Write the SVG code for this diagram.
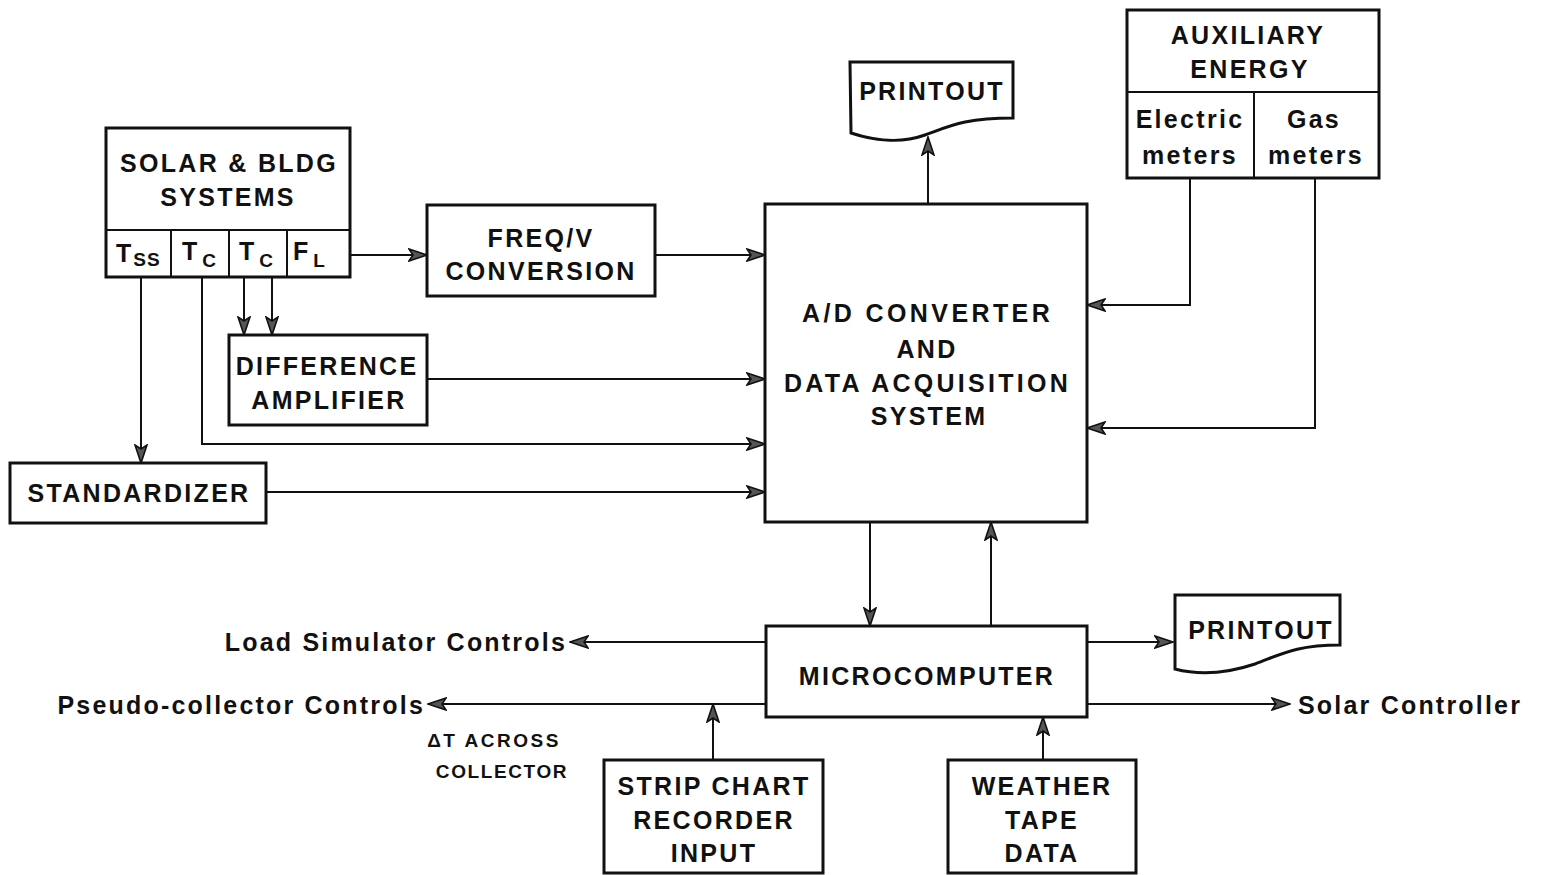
<svg xmlns="http://www.w3.org/2000/svg" width="1543" height="875" viewBox="0 0 1543 875">
<style>
.box{fill:#fff;stroke:#111;stroke-width:3}
.div{stroke:#111;stroke-width:2;fill:none}
.t{font-family:"Liberation Sans",Arial,sans-serif;font-weight:bold;font-size:25px;letter-spacing:2.3px;fill:#111;text-anchor:middle}
.ts{font-family:"Liberation Sans",Arial,sans-serif;font-weight:bold;font-size:25px;letter-spacing:1px;fill:#111}
.l{font-family:"Liberation Sans",Arial,sans-serif;font-weight:bold;font-size:25px;letter-spacing:2.2px;fill:#111}
.s{font-family:"Liberation Sans",Arial,sans-serif;font-weight:bold;font-size:19px;letter-spacing:2.5px;fill:#111;text-anchor:middle}
.c{stroke:#111;stroke-width:2;fill:none;marker-end:url(#ah)}
</style>
<defs>
<marker id="ah" viewBox="0 0 20 14" refX="19" refY="7" markerWidth="20" markerHeight="14" markerUnits="userSpaceOnUse" orient="auto">
<path d="M1,1 L19,7 L1,13 L5,7 Z" fill="#555" stroke="#111" stroke-width="1.6" stroke-linejoin="miter"/>
</marker>
</defs>
<g id="connectors">
<path class="c" d="M350,255 H427"/>
<path class="c" d="M655,255 H765"/>
<path class="c" d="M427,379 H765"/>
<path class="c" d="M202,277 V444 H765"/>
<path class="c" d="M141,277 V463"/>
<path class="c" d="M244,277 V335"/>
<path class="c" d="M272,277 V335"/>
<path class="c" d="M266,492 H765"/>
<path class="c" d="M1190,178 V305 H1087"/>
<path class="c" d="M1315,178 V428 H1087"/>
<path class="c" d="M928,204 V137"/>
<path class="c" d="M870,522 V626"/>
<path class="c" d="M991,626 V522"/>
<path class="c" d="M766,642 H570"/>
<path class="c" d="M766,704 H428"/>
<path class="c" d="M1087,642 H1173"/>
<path class="c" d="M1087,704 H1290"/>
<path class="c" d="M713,760 V704"/>
<path class="c" d="M1043,760 V717"/>
</g>
<g id="solar">
<rect class="box" x="106" y="128" width="244" height="149"/>
<path class="div" d="M106,230 H350 M171,230 V277 M229,230 V277 M287,230 V277"/>
<text class="t" x="229" y="172">SOLAR &amp; BLDG</text>
<text class="t" x="228" y="206">SYSTEMS</text>
<text class="ts" x="116" y="262">T<tspan font-size="19" dx="1" dy="4">SS</tspan></text>
<text class="ts" x="182" y="260">T<tspan font-size="19" dx="4" dy="7">C</tspan></text>
<text class="ts" x="239" y="260">T<tspan font-size="19" dx="4" dy="7">C</tspan></text>
<text class="ts" x="293" y="260">F<tspan font-size="19" dx="4" dy="7">L</tspan></text>
</g>
<g id="freqv">
<rect class="box" x="427" y="205" width="228" height="91"/>
<text class="t" x="541" y="247">FREQ/V</text>
<text class="t" x="541" y="280">CONVERSION</text>
</g>
<g id="diffamp">
<rect class="box" x="229" y="335" width="198" height="90"/>
<text class="t" x="327" y="375">DIFFERENCE</text>
<text class="t" x="329" y="409">AMPLIFIER</text>
</g>
<g id="standardizer">
<rect class="box" x="10" y="463" width="256" height="60"/>
<text class="t" x="139" y="502">STANDARDIZER</text>
</g>
<g id="adc">
<rect class="box" x="765" y="204" width="322" height="318"/>
<text class="t" x="927" y="322" textLength="250">A/D CONVERTER</text>
<text class="t" x="927" y="358">AND</text>
<text class="t" x="927" y="392" textLength="286">DATA ACQUISITION</text>
<text class="t" x="929" y="425">SYSTEM</text>
</g>
<g id="printout1">
<path class="box" d="M850,62 H1013 V118 C965,118 950,126 925,135 C900,144 872,140 851,133 Z"/>
<text class="t" x="932" y="100">PRINTOUT</text>
</g>
<g id="aux">
<rect class="box" x="1127" y="10" width="252" height="168"/>
<path class="div" d="M1127,92 H1379 M1254,92 V178"/>
<text class="t" x="1248" y="44">AUXILIARY</text>
<text class="t" x="1250" y="78">ENERGY</text>
<text class="t" x="1190" y="128">Electric</text>
<text class="t" x="1190" y="164">meters</text>
<text class="t" x="1314" y="128">Gas</text>
<text class="t" x="1316" y="164">meters</text>
</g>
<g id="micro">
<rect class="box" x="766" y="626" width="321" height="91"/>
<text class="t" x="927" y="685">MICROCOMPUTER</text>
</g>
<g id="printout2">
<path class="box" d="M1175,595 H1340 V645 C1295,645 1280,655 1255,664 C1225,674 1198,675 1175,669 Z"/>
<text class="t" x="1261" y="639">PRINTOUT</text>
</g>
<g id="stripchart">
<rect class="box" x="604" y="760" width="219" height="113"/>
<text class="t" x="714" y="795">STRIP CHART</text>
<text class="t" x="714" y="829">RECORDER</text>
<text class="t" x="714" y="862">INPUT</text>
</g>
<g id="weather">
<rect class="box" x="948" y="760" width="188" height="113"/>
<text class="t" x="1042" y="795">WEATHER</text>
<text class="t" x="1042" y="829">TAPE</text>
<text class="t" x="1042" y="862">DATA</text>
</g>
<g id="labels">
<text class="l" x="567" y="651" text-anchor="end">Load Simulator Controls</text>
<text class="l" x="425" y="714" text-anchor="end">Pseudo-collector Controls</text>
<text class="l" x="1298" y="714">Solar Controller</text>
<text class="s" x="494" y="747">ΔT ACROSS</text>
<text class="s" x="502" y="778" style="letter-spacing:1.6px">COLLECTOR</text>
</g>
</svg>
